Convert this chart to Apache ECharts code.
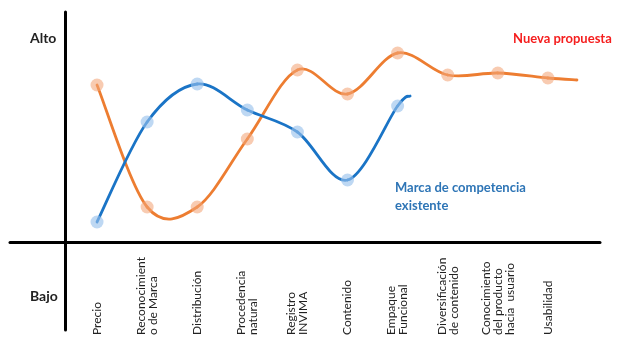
<!DOCTYPE html>
<html>
<head>
<meta charset="utf-8">
<script src="https://cdn.jsdelivr.net/npm/echarts@6/dist/echarts.min.js"></script>
<style>
  html, body { margin: 0; padding: 0; background: #fff; }
  #chart { width: 619px; height: 342px; }
</style>
</head>
<body>
<div id="chart"></div>
<script>
// Attributes compared along the horizontal axis
const categories = [
  'Precio',
  'Reconocimient\no de Marca',
  'Distribución',
  'Procedencia\nnatural',
  'Registro\nINVIMA',
  'Contenido',
  'Empaque\nFuncional',
  'Diversificación\nde contenido',
  'Conocimiento\ndel producto\nhacia  usuario',
  'Usabilidad'
];

// Level of each attribute (Bajo … Alto)
const nuevaPropuesta = [15.7, 3.5, 3.5, 10.3, 17.2, 14.8, 18.9, 16.7, 16.9, 16.4];
const marcaExistente = [2.0, 12.0, 15.8, 13.2, 11.0, 6.2, 13.6];

// Where each curve trails off after its last marker: [position, level]
const nuevaTail = [9.58, 16.2];
const marcaTail = [6.25, 14.6];

const levelLabels = { high: 'Alto', low: 'Bajo' };
const seriesNames = ['Nueva propuesta', 'Marca de competencia\nexistente'];

const markers = values => values.map((v, i) => [i, v]);
const curvePoints = (values, tail) => markers(values).concat([tail]);

// Smooth curve: each item draws the Catmull-Rom segment to the next point,
// converted to a cubic Bézier in pixel space.
function curveSeries(name, pts, color) {
  return {
    name: name,
    type: 'custom',
    data: pts,
    z: 2,
    silent: true,
    renderItem: function (params, api) {
      const i = params.dataIndex;
      if (i >= pts.length - 1) return null;
      const at = k => api.coord(pts[Math.max(0, Math.min(pts.length - 1, k))]);
      const p0 = at(i - 1), p1 = at(i), p2 = at(i + 1), p3 = at(i + 2);
      const t = 1 / 6;
      return {
        type: 'bezierCurve',
        shape: {
          x1: p1[0], y1: p1[1],
          x2: p2[0], y2: p2[1],
          cpx1: p1[0] + (p2[0] - p0[0]) * t,
          cpy1: p1[1] + (p2[1] - p0[1]) * t,
          cpx2: p2[0] - (p3[0] - p1[0]) * t,
          cpy2: p2[1] - (p3[1] - p1[1]) * t
        },
        style: { stroke: color, lineWidth: 2.8, fill: null, lineCap: 'round' }
      };
    }
  };
}

function markerSeries(name, values, fill) {
  return {
    name: name,
    type: 'scatter',
    data: markers(values),
    symbol: 'circle',
    symbolSize: 13,
    itemStyle: { color: fill, borderWidth: 0 },
    z: 5
  };
}

const chart = echarts.init(document.getElementById('chart'), null, { renderer: 'canvas' });
const font = 'Lato, "Open Sans", sans-serif';

chart.setOption({
  animation: false,
  backgroundColor: '#fff',
  grid: { left: 10, right: 19, top: 12, bottom: 12, containLabel: false, outerBoundsMode: 'none' },
  xAxis: {
    type: 'value',
    min: -1.737,
    max: 10.04,
    splitLine: { show: false },
    axisLine: { onZero: true, lineStyle: { color: '#000', width: 3 } },
    axisTick: { show: false },
    axisLabel: {
      customValues: categories.map((_, i) => i),
      formatter: v => categories[Math.round(v)] || '',
      rotate: 90,
      align: 'left',
      verticalAlign: 'middle',
      margin: 5,
      hideOverlap: false,
      fontFamily: font,
      fontSize: 12,
      lineHeight: 12,
      color: '#222'
    }
  },
  yAxis: {
    type: 'value',
    min: -8.8,
    max: 23,
    offset: -55,
    splitLine: { show: false },
    axisLine: { show: true, onZero: false, lineStyle: { color: '#000', width: 3 } },
    axisTick: { show: false },
    axisLabel: { show: false }
  },
  series: [
    curveSeries(seriesNames[0], curvePoints(nuevaPropuesta, nuevaTail), '#ED7D31'),
    curveSeries(seriesNames[1], curvePoints(marcaExistente, marcaTail), '#1A74C6'),
    markerSeries(seriesNames[0], nuevaPropuesta, 'rgba(243,165,120,0.72)'),
    markerSeries(seriesNames[1], marcaExistente, 'rgba(150,192,235,0.78)')
  ],
  graphic: [
    { type: 'text', left: 30, top: 31, style: { text: levelLabels.high, font: 'bold 14px ' + font, fill: '#222' } },
    { type: 'text', left: 30, top: 289, style: { text: levelLabels.low, font: 'bold 14px ' + font, fill: '#222' } },
    { type: 'text', left: 513, top: 32, style: { text: seriesNames[0], font: 'bold 13px ' + font, fill: '#F51E1E' } },
    { type: 'text', left: 395, top: 179, style: { text: seriesNames[1], font: 'bold 13px ' + font, fill: '#2E75B6', lineHeight: 18 } }
  ]
});
</script>
</body>
</html>
